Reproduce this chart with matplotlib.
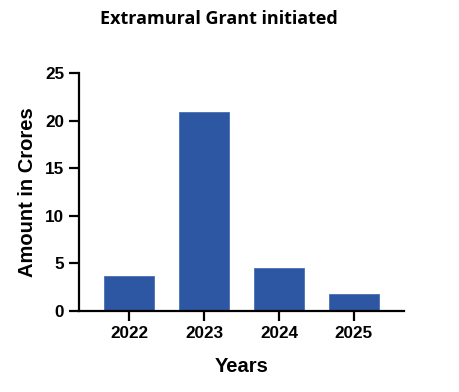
import matplotlib
matplotlib.use("Agg")
import matplotlib.pyplot as plt

years = ["2022", "2023", "2024", "2025"]
amounts = [3.7, 20.9, 4.5, 1.8]

plt.rcParams["font.family"] = ["Liberation Sans", "DejaVu Sans"]
plt.rcParams["font.weight"] = "bold"

fig = plt.figure(figsize=(4.59, 3.92), dpi=100)
ax = fig.add_axes([0.172, 0.2066, 0.708, 0.6072])

x = range(len(years))
ax.bar(x, amounts, width=0.667, color="#2E57A3", edgecolor="#4A6FB4", linewidth=0.6)

ax.set_xlim(-0.667, 3.667)
ax.set_ylim(0, 25)
ax.set_yticks([0, 5, 10, 15, 20, 25])
ax.set_xticks(list(x))
ax.set_xticklabels(years)

for side in ["top", "right"]:
    ax.spines[side].set_visible(False)
for side in ["left", "bottom"]:
    ax.spines[side].set_linewidth(1.6)

ax.tick_params(axis="both", width=1.6, length=7, labelsize=12.3, direction="out")
for lbl in ax.get_xticklabels() + ax.get_yticklabels():
    lbl.set_fontweight("bold")

ax.set_xlabel("Years", fontsize=14.5, fontweight="bold", labelpad=12)
ax.set_ylabel("Amount in Crores", fontsize=14.5, fontweight="bold", labelpad=6)
fig.text(0.476, 0.951, "Extramural Grant initiated", ha="center", va="center",
         fontsize=13, fontweight="bold", family=["Open Sans", "DejaVu Sans"])

fig.savefig("out.png", dpi=100)
